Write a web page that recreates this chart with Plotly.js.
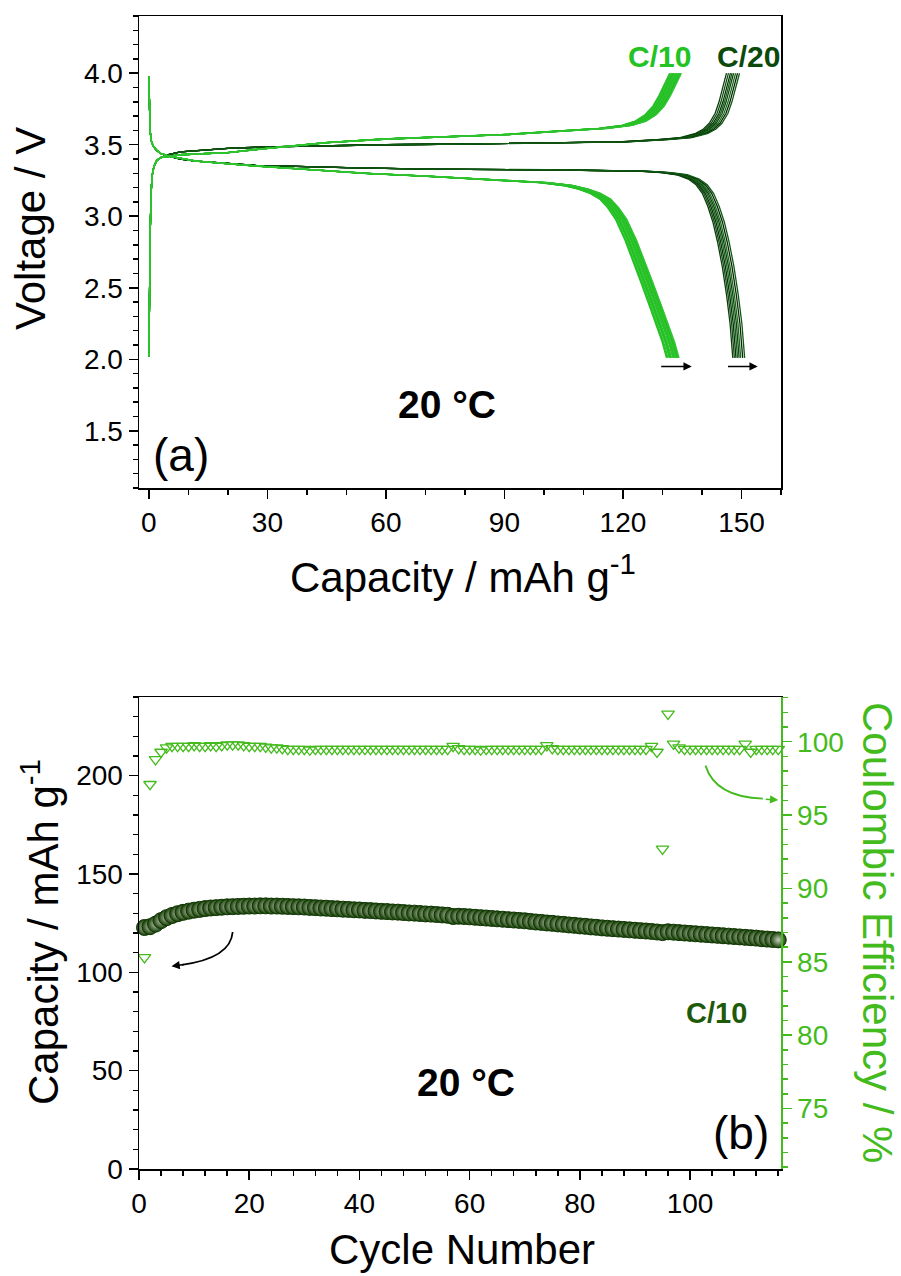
<!DOCTYPE html>
<html>
<head>
<meta charset="utf-8">
<script src="https://cdn.plot.ly/plotly-3.0.1.min.js"></script>
<style>html,body{margin:0;padding:0;background:#fff;}#chart{width:901px;height:1276px;}</style>
</head>
<body>
<div id="chart"></div>
<script>
// ---------- Panel (a): voltage profiles (base curves) ----------
const c20ChargeCap = [0, 0.15, 0.35, 0.55, 0.8, 1.3, 2.0, 3.0, 5, 8, 12, 20, 30, 45, 60, 80, 100, 120, 130, 136, 140, 142, 143.5, 145, 146, 147, 147.9];
const c20ChargeV   = [2.02, 2.5, 2.9, 3.15, 3.28, 3.35, 3.39, 3.41, 3.43, 3.45, 3.46, 3.475, 3.485, 3.495, 3.5, 3.505, 3.51, 3.52, 3.535, 3.55, 3.58, 3.61, 3.65, 3.72, 3.8, 3.9, 4.0];
const c20DischCap  = [0, 0.1, 0.2, 0.3, 0.6, 1.1, 2.0, 3.0, 5, 8, 12, 27, 50, 70, 100, 125, 131, 135, 138, 140, 141.6, 143, 144.3, 145.5, 146.7, 147.8, 148.7, 149.4];
const c20DischV    = [3.98, 3.85, 3.7, 3.6, 3.53, 3.49, 3.46, 3.44, 3.42, 3.40, 3.385, 3.355, 3.34, 3.33, 3.325, 3.315, 3.305, 3.29, 3.26, 3.22, 3.16, 3.07, 2.96, 2.82, 2.65, 2.45, 2.25, 2.01];
const c10ChargeCap = [0, 0.15, 0.35, 0.55, 0.8, 1.3, 2.0, 3.0, 5, 8, 12, 20, 30, 45, 60, 75, 90, 104, 115, 121, 124.5, 127, 129, 130.5, 131.8, 132.7, 133.3];
const c10ChargeV   = [2.02, 2.5, 2.9, 3.15, 3.28, 3.35, 3.39, 3.41, 3.42, 3.43, 3.435, 3.445, 3.475, 3.515, 3.54, 3.555, 3.57, 3.595, 3.615, 3.635, 3.665, 3.71, 3.77, 3.84, 3.91, 3.96, 4.0];
const c10DischCap  = [0, 0.1, 0.2, 0.3, 0.6, 1.1, 2.0, 3.0, 5, 8, 12, 25, 40, 55, 70, 85, 100, 106, 110, 113, 115.5, 117.5, 119.5, 122, 124, 126, 128, 130, 131.5, 132.6];
const c10DischV    = [3.98, 3.85, 3.7, 3.6, 3.53, 3.49, 3.46, 3.44, 3.42, 3.405, 3.385, 3.355, 3.325, 3.30, 3.28, 3.26, 3.235, 3.215, 3.19, 3.16, 3.12, 3.06, 2.98, 2.83, 2.69, 2.54, 2.39, 2.24, 2.12, 2.01];

// end capacity of every cycle in each bundle (mAh/g)
const c20ChargeEnds = [146.2, 146.7, 147.2, 147.6, 148.0, 148.5, 149.0, 149.5];
const c20DischEnds  = [147.8, 148.2, 148.6, 149.0, 149.4, 149.8, 150.3, 150.8];
const c10ChargeEnds = [131.8, 132.0, 132.2, 132.4, 132.6, 132.8, 133.0, 133.2, 133.4, 133.6, 133.8, 134.0, 134.2, 134.4, 134.6, 134.8];
const c10DischEnds  = [131.0, 131.2, 131.4, 131.7, 131.9, 132.1, 132.3, 132.6, 132.8, 133.0, 133.2, 133.4, 133.6, 133.8, 134.0, 134.2];

const c20Colors = ['#0a3d0a', '#0e4f0e', '#083008', '#13601a', '#0a450a', '#1a6a1a', '#062806', '#0f5a12'];
const c10Colors = ['#22c322', '#2fb82f', '#19cc19', '#3bbf3b', '#22c322', '#28b428', '#1fcc1f', '#35c035'];

// ---------- Panel (b): cycling ----------
const cycles = [];
for (let i = 1; i <= 117; i++) cycles.push(i);
const capacity = [
  122.8, 123.2, 124.5, 126.3, 127.8, 128.9, 129.8, 130.5, 131.1, 131.6,
  132.0, 132.4, 132.7, 132.9, 133.1, 133.3, 133.4, 133.5, 133.6, 133.7,
  133.7, 133.8, 133.8, 133.7, 133.7, 133.6, 133.5, 133.4, 133.3, 133.2,
  133.0, 132.9, 132.7, 132.6, 132.4, 132.3, 132.1, 132.0, 131.8, 131.7,
  131.5, 131.4, 131.2, 131.0, 130.9, 130.7, 130.6, 130.4, 130.2, 130.1,
  129.9, 129.7, 129.6, 129.4, 129.2, 129.0, 128.4, 128.5, 128.4, 128.2,
  128.0, 127.8, 127.6, 127.4, 127.2, 127.0, 126.8, 126.6, 126.4, 126.2,
  125.9, 125.6, 125.4, 125.1, 124.9, 124.6, 124.4, 124.1, 123.9, 123.6,
  123.4, 123.1, 122.9, 122.6, 122.4, 122.2, 122.0, 121.8, 121.6, 121.4,
  121.2, 121.0, 120.8, 120.5, 120.2, 120.6, 120.4, 120.2, 120.0, 119.8,
  119.6, 119.4, 119.2, 119.0, 118.8, 118.6, 118.4, 118.2, 118.0, 117.8,
  117.6, 117.4, 117.1, 116.9, 116.7, 116.5, 116.2
];
const efficiency = [
  85.3, 97.1, 98.8, 99.3, 99.6, 99.7, 99.7, 99.7, 99.7, 99.75,
  99.7, 99.7, 99.75, 99.7, 99.75, 99.8, 99.8, 99.8, 99.75, 99.7,
  99.7, 99.7, 99.65, 99.6, 99.6, 99.55, 99.5, 99.5, 99.5, 99.5,
  99.45, 99.5, 99.5, 99.5, 99.5, 99.5, 99.5, 99.5, 99.5, 99.5,
  99.5, 99.5, 99.5, 99.5, 99.5, 99.5, 99.5, 99.5, 99.5, 99.5,
  99.5, 99.5, 99.5, 99.5, 99.5, 99.5, 99.7, 99.55, 99.5, 99.5,
  99.5, 99.45, 99.5, 99.5, 99.5, 99.5, 99.5, 99.5, 99.5, 99.5,
  99.5, 99.5, 99.5, 99.75, 99.55, 99.5, 99.5, 99.5, 99.5, 99.5,
  99.5, 99.5, 99.5, 99.5, 99.5, 99.5, 99.5, 99.5, 99.5, 99.5,
  99.5, 99.5, 99.7, 99.3, 92.7, 101.9, 99.85, 99.6, 99.5, 99.5,
  99.5, 99.5, 99.5, 99.5, 99.5, 99.5, 99.5, 99.5, 99.5, 99.85,
  99.3, 99.5, 99.5, 99.5, 99.5, 99.5, 93.7
];

// ---------- traces ----------
const traces = [];
function addBundle(caps, volts, ends, colors) {
  const base = caps[caps.length - 1];
  ends.forEach((e, i) => {
    traces.push({
      x: caps.map(c => c * e / base), y: volts, xaxis: 'x', yaxis: 'y',
      mode: 'lines', line: {color: colors[i % colors.length], width: 1.3},
      hoverinfo: 'skip'
    });
  });
}
addBundle(c20ChargeCap, c20ChargeV, c20ChargeEnds, c20Colors);
addBundle(c20DischCap, c20DischV, c20DischEnds, c20Colors);
addBundle(c10ChargeCap, c10ChargeV, c10ChargeEnds, c10Colors);
addBundle(c10DischCap, c10DischV, c10DischEnds, c10Colors);

traces.push({
  x: cycles, y: capacity, xaxis: 'x2', yaxis: 'y2', mode: 'markers', cliponaxis: false,
  marker: {symbol: 'circle', size: 16, color: '#143f02',
           gradient: {type: 'radial', color: '#c8ccc0'},
           line: {color: '#0f3502', width: 1}}
});
const ceGreen = '#44bb1c';
traces.push({
  x: cycles, y: efficiency, xaxis: 'x2', yaxis: 'y3', mode: 'markers', cliponaxis: false,
  marker: {symbol: 'triangle-down-open', size: 11, color: ceGreen, line: {color: ceGreen, width: 1.3}}
});

// ---------- layout ----------
const W = 901, H = 1276;
const px = v => v / W, py = v => 1 - v / H;
const font = 'Liberation Sans, Arial, sans-serif';
const narrow = 'Liberation Sans Narrow, Arial Narrow, Liberation Sans, Arial, sans-serif';
const axisCommon = {
  showline: true, linewidth: 1.5, linecolor: '#000', ticks: 'outside', ticklen: 9, tickwidth: 1.5,
  tickcolor: '#000', showgrid: false, zeroline: false, tickfont: {family: font, size: 28, color: '#000'}
};

const ann = [];
function txt(text, x, y, size, color, opts) {
  ann.push(Object.assign({text: text, x: px(x), y: py(y), xref: 'paper', yref: 'paper',
    showarrow: false, xanchor: 'center', yanchor: 'middle',
    font: {family: font, size: size, color: color}}, opts || {}));
}
txt('Voltage / V', 30, 229, 42, '#000', {textangle: -90});
txt('Capacity / mAh g<sup>-1</sup>', 463, 574, 42, '#000');
txt('Capacity / mAh g<sup>-1</sup>', 40, 932, 42, '#000', {textangle: -90});
txt('Coulombic Efficiency / %', 878, 932, 42, ceGreen, {textangle: 90});
txt('Cycle Number', 462, 1249, 42, '#000');
txt('<b>C/10</b>', 659, 57, 30, '#22c322', {font: {family: narrow, size: 30, color: '#22c322'}});
txt('<b>C/20</b>', 748, 57, 30, '#0b4a0b', {font: {family: narrow, size: 30, color: '#0b4a0b'}});
txt('<b>20 °C</b>', 447, 404, 39, '#000', {font: {family: narrow, size: 39, color: '#000'}});
txt('(a)', 181, 455, 46, '#000');
txt('<b>C/10</b>', 716, 1013, 29, '#1e5a0a', {font: {family: narrow, size: 29, color: '#1e5a0a'}});
txt('<b>20 °C</b>', 466, 1082, 39, '#000', {font: {family: narrow, size: 39, color: '#000'}});
txt('(b)', 741, 1133, 46, '#000');

// straight arrows in panel (a)
[[129.3, 137.4], [146.2, 154.1]].forEach(a => {
  ann.push({x: a[1], y: 1.95, ax: a[0], ay: 1.95, xref: 'x', yref: 'y', axref: 'x', ayref: 'y',
    text: '', showarrow: true, arrowhead: 2, arrowsize: 1.1, arrowwidth: 1.5, arrowcolor: '#000'});
});
// arrowheads of curved arrows in panel (b)
ann.push({x: 5.9, y: 103.05, xref: 'x2', yref: 'y2', ax: 14, ay: -2, text: '', showarrow: true,
  arrowhead: 2, arrowsize: 1.1, arrowwidth: 1.5, arrowcolor: '#000'});
ann.push({x: 116.0, y: 187.6, xref: 'x2', yref: 'y2', ax: -14, ay: -1, text: '', showarrow: true,
  arrowhead: 2, arrowsize: 1.1, arrowwidth: 1.5, arrowcolor: ceGreen});

const shapes = [
  {type: 'path', xref: 'x2', yref: 'y2', path: 'M 17.0 120.5 Q 16.63 107.2 7.76 103.8',
   line: {color: '#000', width: 1.8}},
  {type: 'path', xref: 'x2', yref: 'y2', path: 'M 102.8 205.1 Q 104.6 189.1 113.2 188.3',
   line: {color: ceGreen, width: 1.8}}
];

const xDom = [px(139), px(781)];
const layout = {
  width: W, height: H, margin: {l: 0, r: 0, t: 0, b: 0}, showlegend: false,
  paper_bgcolor: '#fff', plot_bgcolor: '#fff',
  xaxis: Object.assign({}, axisCommon, {domain: xDom, anchor: 'y', range: [-2.5, 160], mirror: true,
    tickvals: [0, 30, 60, 90, 120, 150],
    minor: {dtick: 10, tick0: 0, ticks: 'outside', ticklen: 5, tickwidth: 1.5, tickcolor: '#000'}}),
  yaxis: Object.assign({}, axisCommon, {domain: [1 - 488 / H, 1 - 16 / H], anchor: 'x', range: [1.1, 4.4], mirror: true,
    tickvals: [1.5, 2.0, 2.5, 3.0, 3.5, 4.0], ticktext: ['1.5', '2.0', '2.5', '3.0', '3.5', '4.0'],
    minor: {dtick: 0.1, tick0: 0, ticks: 'outside', ticklen: 5, tickwidth: 1.5, tickcolor: '#000'}}),
  xaxis2: Object.assign({}, axisCommon, {domain: xDom, anchor: 'y2', range: [0, 116.5], mirror: true,
    tickvals: [0, 20, 40, 60, 80, 100],
    minor: {dtick: 4, tick0: 0, ticks: 'outside', ticklen: 5, tickwidth: 1.5, tickcolor: '#000'}}),
  yaxis2: Object.assign({}, axisCommon, {domain: [1 - 1169 / H, 1 - 697 / H], anchor: 'x2', range: [0, 240],
    tickvals: [0, 50, 100, 150, 200],
    minor: {dtick: 10, tick0: 0, ticks: 'outside', ticklen: 5, tickwidth: 1.5, tickcolor: '#000'}}),
  yaxis3: Object.assign({}, axisCommon, {overlaying: 'y2', side: 'right', anchor: 'x2', range: [70.87, 103.05],
    linecolor: ceGreen, tickcolor: ceGreen, tickfont: {family: font, size: 28, color: ceGreen},
    tickvals: [75, 80, 85, 90, 95, 100],
    minor: {dtick: 1, tick0: 0, ticks: 'outside', ticklen: 5, tickwidth: 1.5, tickcolor: ceGreen}}),
  annotations: ann, shapes: shapes
};

Plotly.newPlot('chart', traces, layout, {staticPlot: true, displayModeBar: false});
</script>
</body>
</html>
